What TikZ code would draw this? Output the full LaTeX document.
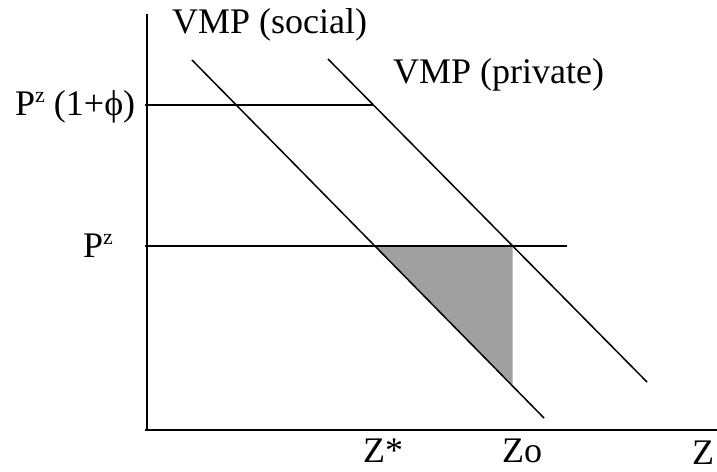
\documentclass[tikz,border=0pt]{standalone}
\usepackage{fontspec}
\setmainfont{Liberation Serif}
\definecolor{areagrey}{RGB}{160,160,160}
\newcommand{\supz}{\raisebox{13pt}{\fontsize{22}{22}\selectfont z}}
\begin{document}
\begin{tikzpicture}[x=1pt,y=-1pt,
  axis/.style={line width=2.2pt},
  priceline/.style={line width=1.8pt},
  curve/.style={line width=1.5pt},
  lbl/.style={inner sep=0pt,anchor=base west,font=\fontsize{36}{40}\selectfont}]
\useasboundingbox (0,0) rectangle (717,471);
% coordinates
\coordinate (ytop) at (147,14);
\coordinate (orig) at (147,430);
\coordinate (xleft) at (145,430);
\coordinate (xend) at (717,430);
\coordinate (s1) at (192,60);
\coordinate (s2) at (544,418);
\coordinate (p1) at (328,59);
\coordinate (p2) at (647,382);
\coordinate (h1a) at (145,105);
\coordinate (h1b) at (373,105);
\coordinate (h2a) at (145,246);
\coordinate (h2b) at (567,246);
\coordinate (ta) at (375,246);
\coordinate (tb) at (512.5,246);
\coordinate (tc) at (512.5,385);
% shaded triangle
\fill[areagrey] (ta) -- (tb) -- (tc) -- cycle;
% axes
\draw[axis] (ytop) -- (orig);
\draw[axis] (xleft) -- (xend);
% price lines
\draw[priceline] (h1a) -- (h1b);
\draw[priceline] (h2a) -- (h2b);
% VMP curves
\draw[curve] (s1) -- (s2);
\draw[curve] (p1) -- (p2);
% labels
\node[lbl] (lsoc) at (172,33) {VMP (social)};
\node[lbl] (lpriv) at (393,83) {VMP (private)};
\node[lbl] (lp1) at (15,115) {P\supz\ (1+\char"03D5)};
\node[lbl] (lp2) at (83,257) {P\supz};
\node[lbl] (lzs) at (363,462) {Z*};
\node[lbl] (lzo) at (502,462) {Zo};
\node[lbl] (lz) at (692,464) {Z};
\end{tikzpicture}
\end{document}
